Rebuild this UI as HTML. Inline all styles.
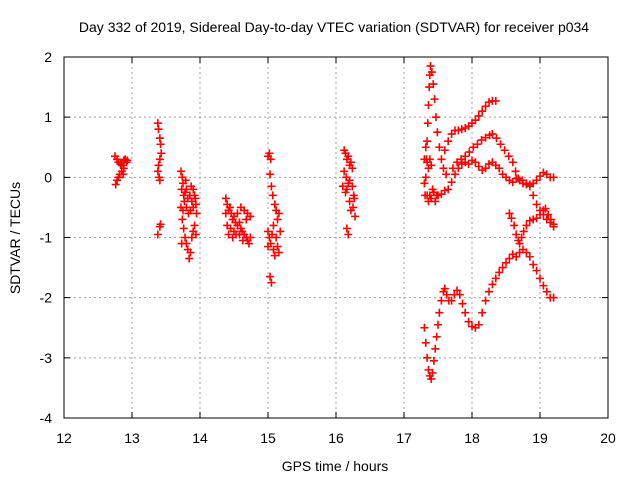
<!DOCTYPE html>
<html><head><meta charset="utf-8"><style>
body{margin:0;background:#fff;}
svg{display:block;font-family:"Liberation Sans",sans-serif;}
</style></head><body>
<svg id="chart" width="640" height="480" viewBox="0 0 640 480">
<text x="334" y="32" font-size="14" text-anchor="middle">Day 332 of 2019, Sidereal Day-to-day VTEC variation (SDTVAR) for receiver p034</text>
<text x="335" y="471" font-size="14" text-anchor="middle">GPS time / hours</text>
<text x="20" y="238" font-size="14" text-anchor="middle" transform="rotate(-90 20 238)">SDTVAR / TECUs</text>
<g id="grid"></g><g id="marks"></g>
<rect x="64" y="57" width="544" height="361" fill="none" stroke="#000" stroke-width="1"/>
<g id="ticks"></g>
</svg>
<script>
const xTicks=[12,13,14,15,16,17,18,19,20];
const yTicks=[2,1,0,-1,-2,-3,-4];
const clusterA=[[12.75,0.35],[12.78,0.3],[12.8,0.25],[12.83,0.22],[12.85,0.2],[12.88,0.28],[12.9,0.3],[12.92,0.25],[12.85,0.1],[12.82,0.05],[12.8,0.0],[12.78,-0.05],[12.76,-0.12],[12.88,0.15],[12.93,0.28],[12.87,0.05]];
const clusterB=[[13.38,0.9],[13.39,0.8],[13.41,0.65],[13.42,0.55],[13.43,0.4],[13.41,0.3],[13.39,0.2],[13.38,0.1],[13.4,0.0],[13.41,-0.05],[13.42,-0.78],[13.41,-0.82],[13.38,-0.95]];
const clusterC=[[13.72,0.1],[13.74,0.0],[13.75,-0.1],[13.73,-0.2],[13.76,-0.3],[13.78,-0.25],[13.8,-0.2],[13.82,-0.35],[13.85,-0.3],[13.88,-0.4],[13.9,-0.2],[13.92,-0.3],[13.94,-0.45],[13.86,-0.55],[13.83,-0.6],[13.8,-0.5],[13.75,-0.55],[13.72,-0.5],[13.74,-0.7],[13.76,-0.85],[13.78,-1.0],[13.8,-1.1],[13.82,-1.2],[13.84,-1.35],[13.86,-1.25],[13.88,-1.0],[13.9,-0.9],[13.92,-0.8],[13.94,-0.95],[13.95,-0.6],[13.73,-1.1],[13.77,-0.4],[13.9,-0.5],[13.87,-0.15],[13.79,-0.05],[13.93,-0.35]];
const clusterD=[[14.38,-0.35],[14.4,-0.45],[14.42,-0.55],[14.44,-0.5],[14.46,-0.6],[14.48,-0.7],[14.5,-0.65],[14.52,-0.75],[14.55,-0.8],[14.58,-0.75],[14.6,-0.85],[14.62,-0.9],[14.65,-0.95],[14.68,-1.0],[14.7,-1.05],[14.72,-1.1],[14.74,-1.0],[14.7,-0.6],[14.65,-0.55],[14.6,-0.5],[14.55,-0.6],[14.5,-0.9],[14.45,-0.85],[14.4,-0.8],[14.42,-0.95],[14.48,-1.0],[14.53,-0.95],[14.58,-0.95],[14.63,-1.05],[14.68,-0.7],[14.74,-0.65],[14.38,-0.6]];
const clusterE=[[15.0,0.35],[15.02,0.4],[15.04,0.3],[15.03,0.05],[15.05,-0.15],[15.07,-0.3],[15.1,-0.45],[15.12,-0.55],[15.14,-0.7],[15.16,-0.6],[15.0,-0.9],[15.02,-1.0],[15.04,-1.1],[15.06,-0.95],[15.08,-1.2],[15.1,-1.3],[15.12,-1.0],[15.14,-1.15],[15.16,-1.25],[15.18,-0.9],[15.0,-1.15],[15.03,-1.65],[15.05,-1.75],[15.08,-0.8]];
const clusterF=[[16.12,0.45],[16.14,0.4],[16.16,0.3],[16.18,0.35],[16.2,0.2],[16.22,0.25],[16.12,0.1],[16.15,0.0],[16.18,-0.1],[16.2,-0.05],[16.24,-0.15],[16.26,-0.3],[16.1,-0.15],[16.14,-0.25],[16.16,-0.2],[16.2,-0.4],[16.22,-0.55],[16.25,-0.5],[16.28,-0.65],[16.16,-0.85],[16.18,-0.95],[16.24,0.15],[16.27,-0.35]];
const spike=[[17.3,-0.1],[17.31,-0.3],[17.32,0.0],[17.33,0.3],[17.34,0.6],[17.35,0.9],[17.36,1.2],[17.37,1.5],[17.38,1.7],[17.39,1.85],[17.41,1.75],[17.43,1.55],[17.45,1.3],[17.47,1.0],[17.49,0.75],[17.52,0.5],[17.55,0.3],[17.58,0.15],[17.62,0.05],[17.3,0.3],[17.32,0.5],[17.34,0.25],[17.36,0.15],[17.38,0.3],[17.4,0.2],[17.34,-0.3],[17.36,-0.4],[17.38,-0.3],[17.4,-0.35],[17.42,-0.2],[17.44,-0.25],[17.46,-0.4],[17.48,-0.3]];
const topCurve=[[17.6,0.45],[17.65,0.6],[17.7,0.72],[17.75,0.78],[17.8,0.78],[17.85,0.8],[17.9,0.82],[17.95,0.85],[18.0,0.9],[18.05,0.95],[18.1,1.02],[18.15,1.1],[18.2,1.18],[18.25,1.25],[18.3,1.27],[18.35,1.27]];
const midCurve=[[17.72,0.15],[17.78,0.25],[17.84,0.3],[17.9,0.35],[17.96,0.42],[18.02,0.5],[18.08,0.55],[18.14,0.62],[18.2,0.66],[18.26,0.7],[18.3,0.72],[18.36,0.65],[18.42,0.55],[18.48,0.45],[18.54,0.35],[18.6,0.25],[18.64,0.1],[18.68,-0.02],[18.74,-0.05],[18.8,-0.1],[18.85,-0.15],[18.9,-0.3],[18.95,-0.45],[19.0,-0.55],[19.05,-0.62],[19.1,-0.7],[19.15,-0.75],[19.2,-0.82]];
const lowCurve=[[17.5,-0.3],[17.55,-0.28],[17.6,-0.22],[17.65,-0.2],[17.7,-0.08],[17.75,0.05],[17.8,0.15],[17.85,0.22],[17.9,0.25],[17.95,0.22],[18.0,0.28],[18.05,0.25],[18.1,0.18],[18.15,0.12],[18.2,0.15],[18.25,0.22],[18.3,0.25],[18.35,0.2],[18.4,0.15],[18.45,0.05],[18.5,0.0],[18.55,-0.05],[18.6,-0.08],[18.65,-0.02],[18.7,-0.05],[18.75,-0.1],[18.8,-0.12],[18.85,-0.12],[18.9,-0.1],[18.95,-0.05],[19.0,0.02],[19.05,0.08],[19.1,0.05],[19.15,0.0],[19.2,0.0]];
const dipCurve=[[18.55,-0.6],[18.58,-0.68],[18.62,-0.8],[18.65,-0.95],[18.68,-1.05],[18.7,-1.1],[18.73,-1.0],[18.76,-0.9],[18.8,-0.8],[18.85,-0.72],[18.9,-0.7],[18.95,-0.68],[19.0,-0.62],[19.05,-0.55],[19.08,-0.52],[19.12,-0.62],[19.16,-0.7],[19.2,-0.78]];
const bottomCurve=[[17.3,-2.5],[17.32,-2.75],[17.34,-3.0],[17.36,-3.2],[17.38,-3.3],[17.4,-3.35],[17.42,-3.25],[17.44,-3.05],[17.46,-2.85],[17.48,-2.65],[17.5,-2.45],[17.52,-2.25],[17.55,-2.05],[17.58,-1.9],[17.6,-1.85],[17.63,-1.95],[17.66,-2.05],[17.7,-2.05],[17.74,-1.95],[17.78,-1.88],[17.82,-1.95],[17.86,-2.1],[17.9,-2.25],[17.95,-2.4],[18.0,-2.48],[18.05,-2.5],[18.1,-2.45],[18.15,-2.25],[18.2,-2.05],[18.25,-1.9],[18.3,-1.78],[18.35,-1.68],[18.4,-1.58],[18.45,-1.5],[18.5,-1.42],[18.55,-1.35],[18.6,-1.28],[18.65,-1.32],[18.7,-1.25],[18.75,-1.2],[18.8,-1.25],[18.85,-1.32],[18.9,-1.45],[18.95,-1.55],[19.0,-1.68],[19.05,-1.8],[19.1,-1.9],[19.15,-2.0],[19.2,-2.0]];
const series=[clusterA,clusterB,clusterC,clusterD,clusterE,clusterF,spike,topCurve,midCurve,lowCurve,dipCurve,bottomCurve];
const NS='http://www.w3.org/2000/svg';
const X0=64,X1=608,Y0=57,Y1=418,XMIN=12,XMAX=20,YMIN=-4,YMAX=2;
function xs(h){return X0+(h-XMIN)/(XMAX-XMIN)*(X1-X0);}
function ys(v){return Y1-(v-YMIN)/(YMAX-YMIN)*(Y1-Y0);}
const grid=document.getElementById('grid'),ticks=document.getElementById('ticks'),marks=document.getElementById('marks');
function mk(tag,attrs,parent){const e=document.createElementNS(NS,tag);for(const k in attrs)e.setAttribute(k,attrs[k]);parent.appendChild(e);return e;}
xTicks.forEach(t=>{const x=xs(t);
 if(t>XMIN&&t<XMAX){const g=mk('line',{x1:x,x2:x,y1:Y0,y2:Y1,stroke:'#a0a0a0','stroke-dasharray':'2,3'},grid);
 
 }
 const tk=mk('path',{d:`M${x},${Y1}v-6M${x},${Y0}v6`,stroke:'#000'},ticks);
 
 
 const l=mk('text',{x:x,y:Y1+25,'font-size':14,'text-anchor':'middle'},ticks);l.textContent=t;
 
 });
yTicks.forEach(t=>{const y=ys(t);
 if(t>YMIN&&t<YMAX){const g=mk('line',{x1:X0,x2:X1,y1:y,y2:y,stroke:'#a0a0a0','stroke-dasharray':'2,3'},grid);
 
 }
 const tk=mk('path',{d:`M${X0},${y}h6M${X1},${y}h-6`,stroke:'#000'},ticks);
 
 
 const l=mk('text',{x:X0-12,y:y+5,'font-size':14,'text-anchor':'end'},ticks);l.textContent=t;
 
 });
series.forEach(s=>s.forEach(p=>{const x=xs(p[0]),y=ys(p[1]);
 const m=mk('path',{d:`M${x-4},${y}h8M${x},${y-4}v8`,stroke:'#ff0000','stroke-width':1.6},marks);
 
 }));
</script>
</body></html>
